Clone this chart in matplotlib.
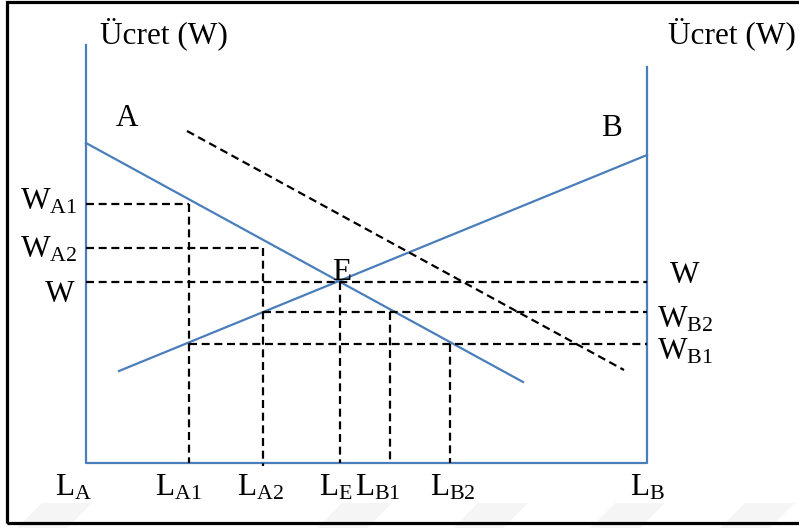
import matplotlib.pyplot as plt
from matplotlib.patches import Rectangle, Polygon

plt.rcParams['font.family'] = ['Liberation Serif', 'DejaVu Serif']
plt.rcParams['mathtext.fontset'] = 'custom'
plt.rcParams['mathtext.rm'] = 'Liberation Serif'
plt.rcParams['mathtext.it'] = 'Liberation Serif:italic'

# labour quantities (distance from origin L_A) and wage levels
L_A, L_A1, L_A2, L_E, L_B1, L_B2, L_B = 0, 103, 177, 254, 304, 364, 561
W_A1, W_A2, W_E, W_B2, W_B1 = 259, 215, 181, 151, 119

# demand curves (start / end points)
curve_A_x = [0, 437]
curve_A_y = [320, 81]
curve_B_x = [33, 561]
curve_B_y = [92, 308]
curve_A_shift_x = [101, 538]
curve_A_shift_y = [332, 93]

axis_left_top = 418
axis_right_top = 396

bottom_labels = ['L_{A}', 'L_{A1}', 'L_{A2}', 'L_{E}', 'L_{B1}', 'L_{B2}', 'L_{B}']
bottom_pos = [-13, 92, 174, 250, 292, 367, 561]

blue = '#4a7ebb'

fig = plt.figure(figsize=(7.99, 5.28), dpi=100)
ax = fig.add_axes([0, 0, 1, 1])
ax.set_xlim(-86, 713)
ax.set_ylim(-65, 463)
ax.axis('off')

# faint watermark shapes at the bottom
for x0 in [-69, 231, 367, 504, 634]:
    ax.add_patch(Polygon([(x0, -65), (x0 + 50, -65), (x0 + 75, -40), (x0 + 25, -40)],
                         closed=True, color='#f5f5f5', lw=0, zorder=0))

# outer frame (right side runs past the picture)
ax.add_patch(Rectangle((-79, -60), 900, 521, fill=False, ec='black', lw=2.3, zorder=5))

# axes of the diagram
ax.plot([L_A, L_A, L_B, L_B], [axis_left_top, 0, 0, axis_right_top], color=blue, lw=1.6)

# curves
ax.plot(curve_A_x, curve_A_y, color=blue, lw=1.6)
ax.plot(curve_B_x, curve_B_y, color=blue, lw=1.6)
dash = dict(color='black', lw=1.6, ls=(0, (3.6, 2.1)))
ax.plot(curve_A_shift_x, curve_A_shift_y, **dash)

# horizontal guides
ax.plot([L_A, L_A1], [W_A1, W_A1], **dash)
ax.plot([L_A, L_A2], [W_A2, W_A2], **dash)
ax.plot([L_A, L_B], [W_E, W_E], **dash)
ax.plot([L_A2, L_B], [W_B2, W_B2], **dash)
ax.plot([L_A1, L_B], [W_B1, W_B1], **dash)
# vertical guides
ax.plot([L_A1, L_A1], [W_A1, 0], **dash)
ax.plot([L_A2, L_A2], [W_A2, -3], **dash)
ax.plot([L_E, L_E], [W_E, 0], **dash)
ax.plot([L_B1, L_B1], [W_B2, 0], **dash)
ax.plot([L_B2, L_B2], [W_B1, 0], **dash)

fs = 22.5
ax.text(14, 429, 'Ücret (W)', fontsize=fs, ha='left', va='center')
ax.text(582, 429, 'Ücret (W)', fontsize=fs, ha='left', va='center')
ax.text(41, 344, 'A', fontsize=fs, ha='center', va='center')
ax.text(525, 335, 'B', fontsize=fs, ha='center', va='center')
ax.text(256, 191, 'E', fontsize=fs, ha='center', va='center')

ax.text(-9, 253, r'$\mathrm{W_{A1}}$', fontsize=fs, ha='right', va='baseline')
ax.text(-9, 205, r'$\mathrm{W_{A2}}$', fontsize=fs, ha='right', va='baseline')
ax.text(-26, 161, 'W', fontsize=fs, ha='center', va='baseline')
ax.text(584, 180, 'W', fontsize=fs, ha='left', va='baseline')
ax.text(571, 135, r'$\mathrm{W_{B2}}$', fontsize=fs, ha='left', va='baseline')
ax.text(571, 103, r'$\mathrm{W_{B1}}$', fontsize=fs, ha='left', va='baseline')

for lab, x in zip(bottom_labels, bottom_pos):
    ax.text(x, -33, r'$\mathrm{' + lab + '}$', fontsize=fs, ha='center', va='baseline')

fig.savefig('out.png', dpi=100)
